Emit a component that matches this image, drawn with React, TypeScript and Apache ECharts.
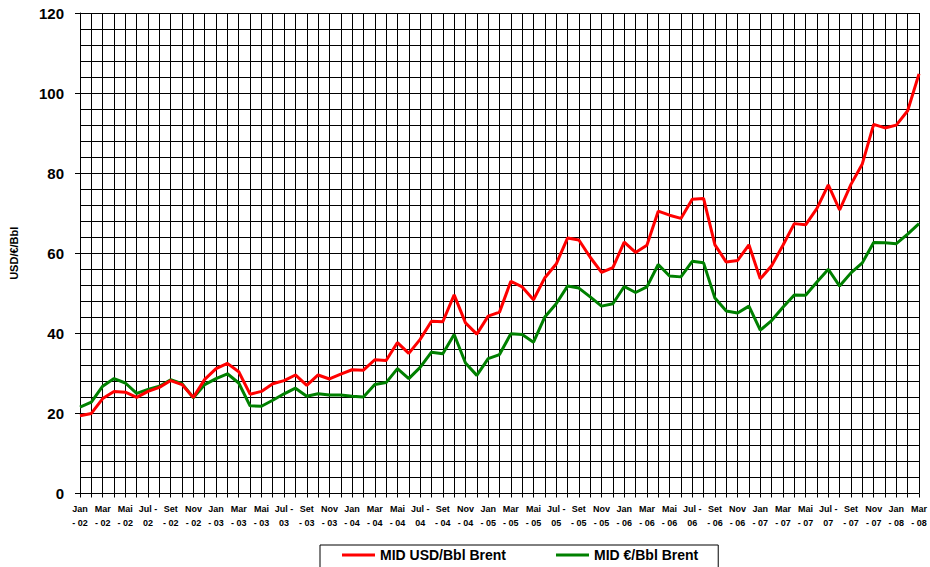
import React, { useEffect, useRef } from "react";
import * as echarts from "echarts";

const monthNames = ["Jan", "Fev", "Mar", "Abr", "Mai", "Jun", "Jul", "Ago", "Set", "Out", "Nov", "Dez"];
const years = ["02", "03", "04", "05", "06", "07", "08"];
const monthCount = 75;

const categories: string[] = [];
for (let i = 0; i < monthCount; i++) {
  categories.push(monthNames[i % 12] + " - " + years[Math.floor(i / 12)]);
}

const usdValues = [
  19.4, 20.0, 23.7, 25.5, 25.3, 24.0, 25.5, 26.5, 28.2, 27.2, 24.0, 28.5,
  31.2, 32.5, 30.4, 24.8, 25.5, 27.4, 28.2, 29.6, 27.0, 29.6, 28.6, 29.8,
  30.9, 30.8, 33.4, 33.2, 37.7, 35.0, 38.5, 43.0, 42.9, 49.6, 42.6, 39.8,
  44.3, 45.3, 53.0, 51.6, 48.4, 53.9, 57.3, 63.8, 63.3, 59.0, 55.2, 56.4,
  62.8, 60.2, 62.0, 70.5, 69.5, 68.7, 73.5, 73.7, 62.1, 57.8, 58.2, 62.1,
  53.6, 56.9, 62.0, 67.4, 67.1, 71.2, 77.1, 70.8, 77.2, 82.3, 92.2, 91.3,
  92.0, 95.6, 104.8,
];

const eurValues = [
  21.6, 22.8, 26.8, 28.7, 27.6, 25.0, 26.0, 26.8, 28.4, 27.4, 23.9, 27.2,
  28.7, 29.9, 27.6, 21.9, 21.8, 23.3, 24.9, 26.3, 24.3, 24.9, 24.6, 24.6,
  24.3, 24.1, 27.2, 27.7, 31.2, 28.7, 31.5, 35.3, 34.9, 39.7, 32.6, 29.5,
  33.7, 34.7, 39.9, 39.7, 37.8, 44.1, 47.4, 51.8, 51.3, 49.1, 46.8, 47.4,
  51.7, 50.2, 51.6, 57.2, 54.3, 54.1, 58.0, 57.6, 48.8, 45.6, 45.1, 46.8,
  40.8, 43.2, 46.5, 49.6, 49.5, 52.8, 56.0, 51.8, 55.1, 57.6, 62.7, 62.6,
  62.4, 64.8, 67.4,
];

const seriesNames = ["MID USD/Bbl Brent", "MID €/Bbl Brent"];
const yAxisName = "USD/€/Bbl";

const FONT = "'Liberation Sans', Arial, Helvetica, sans-serif";

export default function App() {
  const ref = useRef<HTMLDivElement>(null);

  useEffect(() => {
    if (!ref.current) return;
    const chart = echarts.init(ref.current, null, { renderer: "svg" });
    chart.setOption({
      animation: false,
      backgroundColor: "#ffffff",
      grid: { left: 79, right: 9, top: 13, bottom: 73.5, containLabel: false },
      legend: {
        data: seriesNames.map((n) => ({ name: n, icon: "rect" })),
        left: 320,
        top: 545,
        orient: "horizontal",
        itemWidth: 33,
        itemHeight: 3,
        itemGap: 50,
        borderColor: "#000",
        borderWidth: 1,
        padding: [3, 20, 20, 22],
        textStyle: { fontFamily: FONT, fontWeight: "bold", fontSize: 14, color: "#000" },
      },
      xAxis: {
        type: "category",
        data: categories,
        boundaryGap: false,
        axisLine: { lineStyle: { color: "#000", width: 1 } },
        axisTick: { show: true, interval: 0, length: 4, lineStyle: { color: "#000" } },
        splitLine: { show: true, interval: 0, lineStyle: { color: "#000", width: 1 } },
        axisLabel: {
          interval: 1,
          margin: 8,
          fontFamily: FONT,
          fontWeight: "bold",
          fontSize: 9,
          lineHeight: 14,
          color: "#000",
          formatter: (v: string) => {
            const parts = v.split(" - ");
            if (parts[0] === "Jul") return parts[0] + " -\n" + parts[1];
            return parts[0] + "\n- " + parts[1];
          },
        },
      },
      yAxis: {
        type: "value",
        min: 0,
        max: 120,
        interval: 20,
        name: yAxisName,
        nameLocation: "middle",
        nameGap: 61,
        nameRotate: 90,
        nameTextStyle: { fontFamily: FONT, fontWeight: "bold", fontSize: 11, color: "#000" },
        axisLine: { show: true, lineStyle: { color: "#000", width: 1 } },
        axisTick: { show: true, length: 5, lineStyle: { color: "#000" } },
        axisLabel: {
          margin: 16,
          fontFamily: FONT,
          fontWeight: "bold",
          fontSize: 15,
          color: "#000",
        },
        splitLine: { show: true, lineStyle: { color: "#000", width: 1 } },
        minorTick: { show: false, splitNumber: 5 },
        minorSplitLine: { show: true, lineStyle: { color: "#000", width: 1 } },
      },
      series: [
        {
          name: seriesNames[0],
          type: "line",
          data: usdValues,
          symbol: "none",
          color: "#ff0000",
          lineStyle: { color: "#ff0000", width: 3 },
          z: 3,
        },
        {
          name: seriesNames[1],
          type: "line",
          data: eurValues,
          symbol: "none",
          color: "#008000",
          lineStyle: { color: "#008000", width: 3 },
          z: 2,
        },
      ],
    });
    return () => chart.dispose();
  }, []);

  return (
    <div
      ref={ref}
      style={{ position: "fixed", left: 0, top: 0, width: 930, height: 567, background: "#fff" }}
    />
  );
}
